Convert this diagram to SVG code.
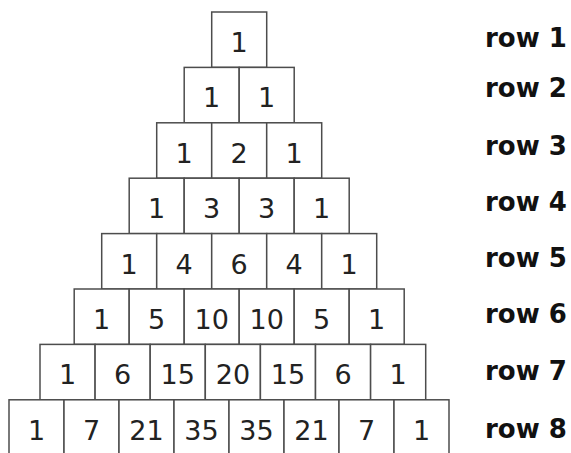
<svg xmlns="http://www.w3.org/2000/svg" width="571" height="453" viewBox="0 0 571 453">
<style>
.c rect{fill:#fff;stroke:#4d4d4d;stroke-width:1.5}
.c text{font-family:"DejaVu Sans",Verdana,sans-serif;font-size:27px;fill:#222;text-anchor:middle}
.lbl{font-family:"DejaVu Sans",Verdana,sans-serif;font-weight:bold;font-size:26px;fill:#111}
</style>
<rect width="571" height="453" fill="#fff"/>
<g id="row1" class="c">
<g id="r1c1"><rect x="211.7" y="12" width="55" height="55.4"/><text x="239.2" y="52">1</text></g>
</g>
<g id="row2" class="c">
<g id="r2c1"><rect x="184.2" y="67.4" width="55" height="55.4"/><text x="211.7" y="107.4">1</text></g>
<g id="r2c2"><rect x="239.2" y="67.4" width="55" height="55.4"/><text x="266.7" y="107.4">1</text></g>
</g>
<g id="row3" class="c">
<g id="r3c1"><rect x="156.7" y="122.8" width="55" height="55.4"/><text x="184.2" y="162.8">1</text></g>
<g id="r3c2"><rect x="211.7" y="122.8" width="55" height="55.4"/><text x="239.2" y="162.8">2</text></g>
<g id="r3c3"><rect x="266.7" y="122.8" width="55" height="55.4"/><text x="294.2" y="162.8">1</text></g>
</g>
<g id="row4" class="c">
<g id="r4c1"><rect x="129.2" y="178.2" width="55" height="55.4"/><text x="156.7" y="218.2">1</text></g>
<g id="r4c2"><rect x="184.2" y="178.2" width="55" height="55.4"/><text x="211.7" y="218.2">3</text></g>
<g id="r4c3"><rect x="239.2" y="178.2" width="55" height="55.4"/><text x="266.7" y="218.2">3</text></g>
<g id="r4c4"><rect x="294.2" y="178.2" width="55" height="55.4"/><text x="321.7" y="218.2">1</text></g>
</g>
<g id="row5" class="c">
<g id="r5c1"><rect x="101.7" y="233.6" width="55" height="55.4"/><text x="129.2" y="273.6">1</text></g>
<g id="r5c2"><rect x="156.7" y="233.6" width="55" height="55.4"/><text x="184.2" y="273.6">4</text></g>
<g id="r5c3"><rect x="211.7" y="233.6" width="55" height="55.4"/><text x="239.2" y="273.6">6</text></g>
<g id="r5c4"><rect x="266.7" y="233.6" width="55" height="55.4"/><text x="294.2" y="273.6">4</text></g>
<g id="r5c5"><rect x="321.7" y="233.6" width="55" height="55.4"/><text x="349.2" y="273.6">1</text></g>
</g>
<g id="row6" class="c">
<g id="r6c1"><rect x="74.2" y="289" width="55" height="55.4"/><text x="101.7" y="329">1</text></g>
<g id="r6c2"><rect x="129.2" y="289" width="55" height="55.4"/><text x="156.7" y="329">5</text></g>
<g id="r6c3"><rect x="184.2" y="289" width="55" height="55.4"/><text x="211.7" y="329">10</text></g>
<g id="r6c4"><rect x="239.2" y="289" width="55" height="55.4"/><text x="266.7" y="329">10</text></g>
<g id="r6c5"><rect x="294.2" y="289" width="55" height="55.4"/><text x="321.7" y="329">5</text></g>
<g id="r6c6"><rect x="349.2" y="289" width="55" height="55.4"/><text x="376.7" y="329">1</text></g>
</g>
<g id="row7" class="c">
<g id="r7c1"><rect x="40" y="344.4" width="55.1" height="55.4"/><text x="67.6" y="384.4">1</text></g>
<g id="r7c2"><rect x="95.1" y="344.4" width="55.1" height="55.4"/><text x="122.7" y="384.4">6</text></g>
<g id="r7c3"><rect x="150.2" y="344.4" width="55.1" height="55.4"/><text x="177.8" y="384.4">15</text></g>
<g id="r7c4"><rect x="205.3" y="344.4" width="55.1" height="55.4"/><text x="232.9" y="384.4">20</text></g>
<g id="r7c5"><rect x="260.4" y="344.4" width="55.1" height="55.4"/><text x="288" y="384.4">15</text></g>
<g id="r7c6"><rect x="315.5" y="344.4" width="55.1" height="55.4"/><text x="343.1" y="384.4">6</text></g>
<g id="r7c7"><rect x="370.6" y="344.4" width="55.1" height="55.4"/><text x="398.2" y="384.4">1</text></g>
</g>
<g id="row8" class="c">
<g id="r8c1"><rect x="9" y="399.8" width="55" height="55.4"/><text x="36.5" y="440">1</text></g>
<g id="r8c2"><rect x="64" y="399.8" width="55" height="55.4"/><text x="91.5" y="440">7</text></g>
<g id="r8c3"><rect x="119" y="399.8" width="55" height="55.4"/><text x="146.5" y="440">21</text></g>
<g id="r8c4"><rect x="174" y="399.8" width="55" height="55.4"/><text x="201.5" y="440">35</text></g>
<g id="r8c5"><rect x="229" y="399.8" width="55" height="55.4"/><text x="256.5" y="440">35</text></g>
<g id="r8c6"><rect x="284" y="399.8" width="55" height="55.4"/><text x="311.5" y="440">21</text></g>
<g id="r8c7"><rect x="339" y="399.8" width="55" height="55.4"/><text x="366.5" y="440">7</text></g>
<g id="r8c8"><rect x="394" y="399.8" width="55" height="55.4"/><text x="421.5" y="440">1</text></g>
</g>
<g id="labels" class="lbl">
<text x="485" y="46.7">row 1</text>
<text x="485" y="96.7">row 2</text>
<text x="485" y="155">row 3</text>
<text x="485" y="211">row 4</text>
<text x="485" y="267">row 5</text>
<text x="485" y="323">row 6</text>
<text x="485" y="380">row 7</text>
<text x="485" y="438">row 8</text>
</g>
</svg>
